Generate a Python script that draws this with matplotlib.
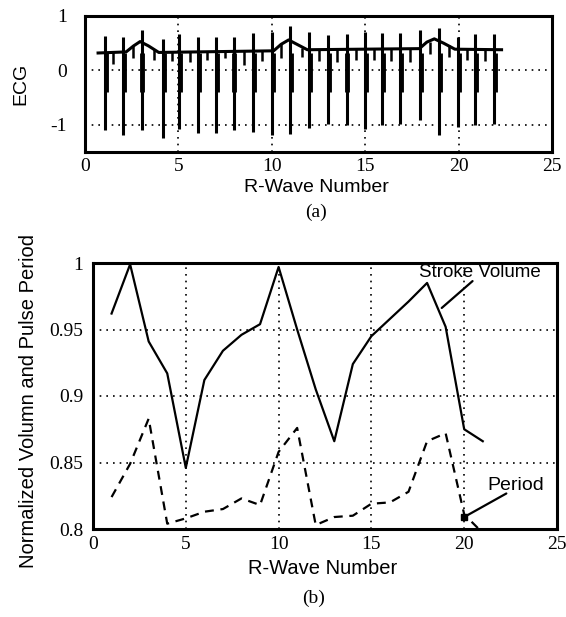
import matplotlib
matplotlib.use("Agg")
import matplotlib.pyplot as plt
import numpy as np

# --- (a) ECG trace: R-wave positions, spike extremes, baseline knots, small dips
beat_x = [1.07, 2.05, 3.03, 4.2, 5.05, 6.05, 7.0, 7.95, 9.0, 10.0, 11.0,
          12.0, 13.03, 14.0, 14.98, 15.9, 16.87, 17.94, 18.97, 19.99, 20.9, 21.9]
beat_top = [0.64, 0.61, 0.75, 0.58, 0.67, 0.62, 0.62, 0.62, 0.68, 0.70, 0.82,
            0.70, 0.65, 0.67, 0.71, 0.69, 0.69, 0.75, 0.78, 0.61, 0.67, 0.67]
beat_bot = [-1.10, -1.18, -1.10, -1.25, -1.07, -1.15, -1.15, -1.10, -1.13, -1.18, -1.16,
            -1.06, -0.98, -1.01, -1.07, -1.01, -0.98, -0.92, -1.19, -1.04, -1.01, -0.98]
base_x = [0.7, 2.2, 2.6, 2.95, 3.4, 3.95, 10.1, 10.5, 10.9, 11.4, 11.9,
          17.9, 18.3, 18.7, 19.2, 19.8, 22.3]
base_y = [0.32, 0.34, 0.45, 0.53, 0.45, 0.33, 0.36, 0.48, 0.56, 0.47, 0.38,
          0.40, 0.52, 0.58, 0.50, 0.39, 0.38]
dip_x = [1.5, 2.55, 3.7, 4.65, 5.6, 6.55, 7.5, 8.5, 9.5, 10.5, 11.6,
         12.5, 13.5, 14.5, 15.45, 16.4, 17.4, 18.45, 19.5, 20.45, 21.4]
dip_lo = [0.12, 0.22, 0.20, 0.18, 0.15, 0.20, 0.22, 0.10, 0.18, 0.22, 0.25,
          0.18, 0.15, 0.20, 0.20, 0.18, 0.15, 0.30, 0.25, 0.20, 0.18]
dip_hi = [0.33, 0.45, 0.40, 0.33, 0.34, 0.35, 0.35, 0.35, 0.36, 0.48, 0.42,
          0.39, 0.39, 0.39, 0.40, 0.40, 0.40, 0.52, 0.47, 0.39, 0.39]

# --- (b) beat-to-beat stroke volume and pulse period (normalized)
rwave = list(range(1, 22))
stroke = [0.962, 0.999, 0.941, 0.917, 0.846, 0.912, 0.934, 0.946, 0.954, 0.997, 0.950,
          0.905, 0.866, 0.924, 0.945, 0.958, 0.971, 0.985, 0.952, 0.875, 0.866]
period = [0.824, 0.849, 0.883, 0.804, 0.808, 0.813, 0.815, 0.823, 0.818, 0.858, 0.876,
          0.803, 0.809, 0.810, 0.819, 0.820, 0.828, 0.866, 0.872, 0.811, 0.797]

serif = "Liberation Serif"
sans = "Liberation Sans"
dots = (0, (1, 3))

fig = plt.figure(figsize=(5.66, 6.17), dpi=100)

# ---------------- top panel (a)
ax1 = fig.add_axes([85/566, 1-152/617, 467/566, 136/617])
ax1.plot(base_x, base_y, color="k", lw=2.2, zorder=3)
ax1.vlines(beat_x, beat_bot, beat_top, color="k", lw=2.2, zorder=3)
ax1.vlines(np.array(beat_x) + 0.04, -0.4, 0.32, color="k", lw=3.5, zorder=3)
ax1.vlines(dip_x, dip_lo, dip_hi, color="k", lw=1.8, zorder=3)
ax1.set_xlim(0, 25)
ax1.set_ylim(-1.5, 1)
ax1.set_xticks([0, 5, 10, 15, 20, 25])
ax1.set_yticks([-1, 0, 1])
ax1.set_yticklabels(["-1", "0", "1"])
ax1.grid(True, color="k", linestyle=dots, lw=1.2)
ax1.tick_params(length=0, labelsize=14)
ax1.tick_params(axis="y", pad=13)
ax1.tick_params(axis="x", pad=4)

# ---------------- bottom panel (b)
ax2 = fig.add_axes([93/566, 1-529/617, 464/566, 266/617])
ax2.plot(rwave, stroke, color="k", lw=1.6, zorder=3)
ax2.plot(rwave, period, color="k", lw=1.6, dashes=(4, 3), zorder=3)
ax2.set_xlim(0, 25)
ax2.set_ylim(0.8, 1.0)
ax2.set_xticks([0, 5, 10, 15, 20, 25])
ax2.set_yticks([0.8, 0.85, 0.9, 0.95, 1.0])
ax2.set_yticklabels(["0.8", "0.85", "0.9", "0.95", "1"])
ax2.grid(True, color="k", linestyle=dots, lw=1.2)
ax2.tick_params(length=0, labelsize=14)
ax2.tick_params(axis="y", pad=7)
ax2.tick_params(axis="x", pad=5)

ax2.annotate("", xy=(18.79, 0.9662), xytext=(20.45, 0.9864),
             arrowprops=dict(arrowstyle="-", color="k", lw=1.6, shrinkA=0, shrinkB=0))
ax2.text(20.85, 0.9897, "Stroke Volume", ha="center", va="baseline",
         fontsize=13.5, family=sans)
ax2.annotate("", xy=(20.0, 0.809), xytext=(22.27, 0.8267),
             arrowprops=dict(arrowstyle="-", color="k", lw=1.6, shrinkA=0, shrinkB=0))
ax2.plot([20.0], [0.809], marker="s", color="k", ms=4, clip_on=False, zorder=4)
ax2.text(22.79, 0.8292, "Period", ha="center", va="baseline",
         fontsize=14, family=sans)

for ax in (ax1, ax2):
    for s in ax.spines.values():
        s.set_linewidth(2.2)
    for lab in ax.get_xticklabels() + ax.get_yticklabels():
        lab.set_family(serif)
    ax.set_axisbelow(True)

# axis labels and captions
fig.text(316/566, 1-188/617, "R-Wave Number", ha="center", va="center",
         fontsize=14, family=sans)
fig.text(316/566, 1-212/617, "(a)", ha="center", va="center",
         fontsize=14, family=serif)
fig.text(21/566, 1-84/617, "ECG", ha="center", va="center", rotation=90,
         fontsize=14, family=sans)
fig.text(323/566, 1-568/617, "R-Wave Number", ha="center", va="center",
         fontsize=14.5, family=sans)
fig.text(314/566, 1-598/617, "(b)", ha="center", va="center",
         fontsize=14, family=serif)
fig.text(29/566, 1-401/617, "Normalized Volumn and Pulse Period", ha="center",
         va="center", rotation=90, fontsize=14.5, family=sans)

fig.savefig("out.png", dpi=100)
